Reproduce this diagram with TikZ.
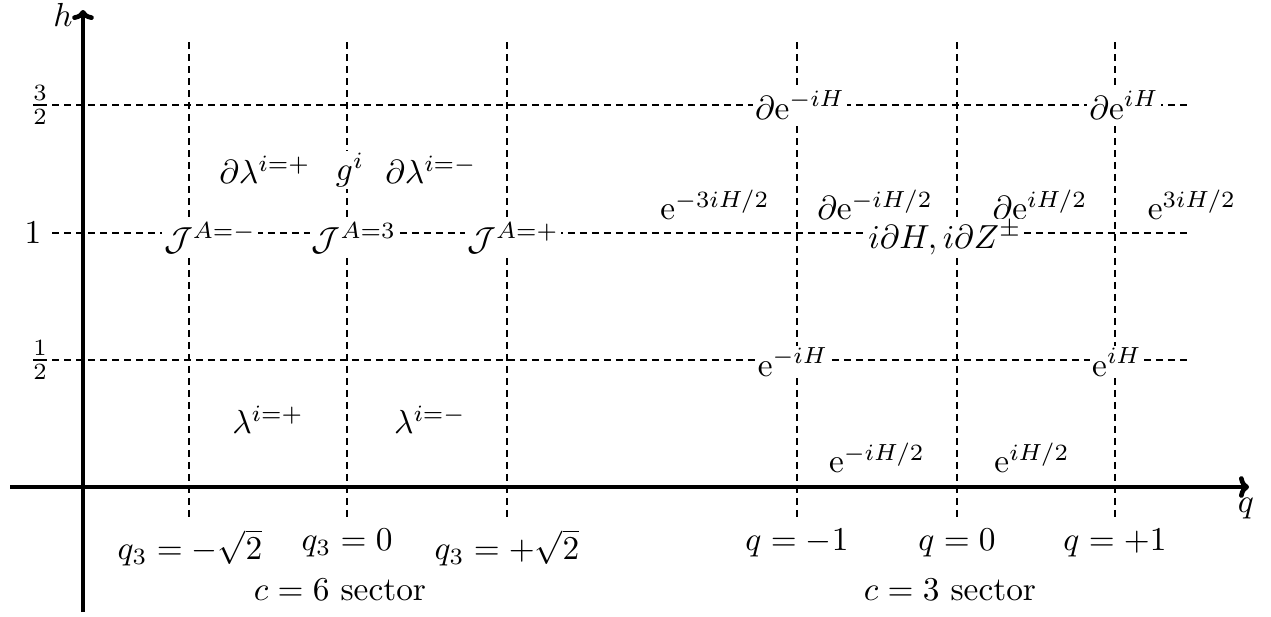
\documentclass[tikz,border=0pt]{standalone}
\usetikzlibrary{arrows.meta}
\begin{document}
\begin{tikzpicture}[x=0.30pt,y=-0.30pt,
  grid/.style={dash pattern=on 2.2pt off 1.4pt, line width=0.75pt},
  axis/.style={line width=1.4pt,-{To[length=3pt,width=6.5pt]}},
  lab/.style={fill=white, inner sep=0.6pt}]
\useasboundingbox (0,0) rectangle (1271,617);
% grid lines
\foreach \x [count=\i] in {189,347,507,797,957,1115}{
  \coordinate (vt\i) at (\x,42);
  \coordinate (vb\i) at (\x,518);
  \draw[grid] (vt\i) -- (vb\i);
}
\foreach \y [count=\i] in {105,233,360}{
  \coordinate (hl\i) at (52,\y);
  \coordinate (hr\i) at (1190,\y);
  \draw[grid] (hl\i) -- (hr\i);
}
% axes
\coordinate (xs) at (10,487);
\coordinate (xe) at (1249,487);
\coordinate (ys) at (83,612);
\coordinate (ye) at (83,10);
\draw[axis] (xs) -- (xe);
\draw[axis] (ys) -- (ye);
\node (hlab) at (63,15) {$h$};
\node (qlab) at (1246,509) {$q$};
% tick labels
\node (t32) at (40,105) {$\frac{3}{2}$};
\node (t1) at (33,233) {$1$};
\node (t12) at (40,360) {$\frac{1}{2}$};
% c=6 sector
\node[lab] (dlp) at (265,170) {$\partial\lambda^{i=+}$};
\node[lab] (g) at (350,170) {$g^{i}$};
\node[lab] (dlm) at (431,170) {$\partial\lambda^{i=-}$};
\node[lab] (Jm) at (210,238) {$\mathcal{J}^{A=-}$};
\node[lab] (J3) at (354,238) {$\mathcal{J}^{A=3}$};
\node[lab] (Jp) at (513,238) {$\mathcal{J}^{A=+}$};
\node[lab] (lp) at (268,420) {$\lambda^{i=+}$};
\node[lab] (lm) at (430,420) {$\lambda^{i=-}$};
% c=3 sector
\node[lab] (dem) at (800,105) {$\partial\mathrm{e}^{-iH}$};
\node[lab] (dep) at (1124,105) {$\partial\mathrm{e}^{iH}$};
\node[lab] (e3m) at (715,205) {$\mathrm{e}^{-3iH/2}$};
\node[lab] (dehm) at (875,205) {$\partial\mathrm{e}^{-iH/2}$};
\node[lab] (dehp) at (1040,205) {$\partial\mathrm{e}^{iH/2}$};
\node[lab] (e3p) at (1192,205) {$\mathrm{e}^{3iH/2}$};
\node[lab] (dH) at (945,238) {$i\partial H, i\partial Z^{\pm}$};
\node[lab] (em) at (793,362) {$\mathrm{e}^{-iH}$};
\node[lab] (ep) at (1117,362) {$\mathrm{e}^{iH}$};
\node[lab] (ehm) at (877,458) {$\mathrm{e}^{-iH/2}$};
\node[lab] (ehp) at (1032,458) {$\mathrm{e}^{iH/2}$};
% bottom labels
\node (q3m) at (190,548) {$q_3=-\sqrt{2}$};
\node (q30) at (347,543) {$q_3=0$};
\node (q3p) at (507,548) {$q_3=+\sqrt{2}$};
\node (c6) at (340,590) {$c=6$ sector};
\node (qm) at (797,543) {$q=-1$};
\node (q0) at (957,543) {$q=0$};
\node (qp) at (1115,543) {$q=+1$};
\node (c3) at (950,590) {$c=3$ sector};
\end{tikzpicture}
\end{document}
